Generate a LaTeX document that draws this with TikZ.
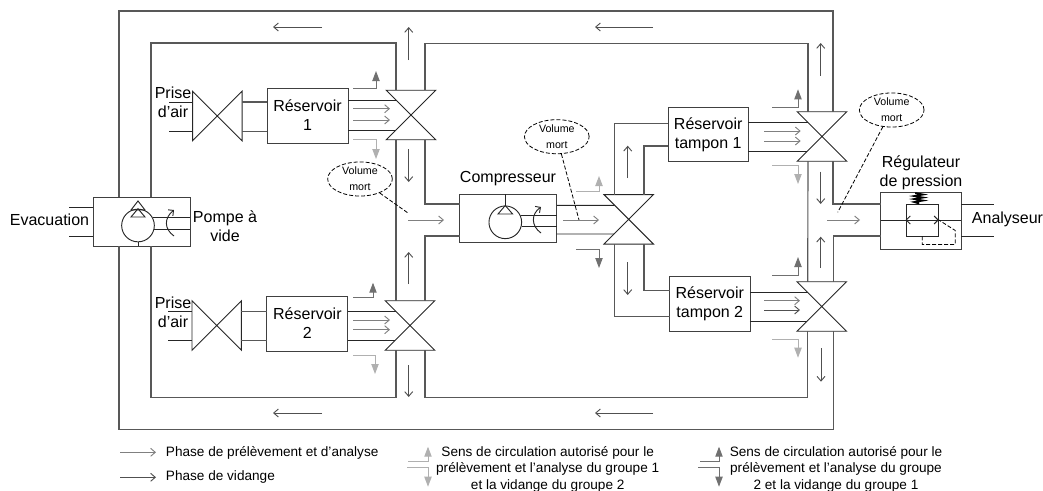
\documentclass[tikz,border=0pt]{standalone}
\usepackage{fontspec}
\setmainfont{Liberation Sans}
\usepackage{tikz}
\usetikzlibrary{calc,arrows.meta,positioning,shapes.geometric}
\definecolor{gc-pipe}{HTML}{585858}
\definecolor{gc-flux}{HTML}{808080}
\definecolor{gc-vide}{HTML}{505050}
\definecolor{gc-light}{HTML}{B0B0B0}
\definecolor{gc-dark}{HTML}{707070}
\newcommand{\vannev}[2]{
    \node[vanne] (#1) at (#2) {};
    \draw[trait] (#1.north west) -- (#1.south east) -- (#1.south west) -- (#1.north east) -- cycle;
}
\newcommand{\vanneh}[2]{
    \node[vanne] (#1) at (#2) {};
    \draw[trait] (#1.north west) -- (#1.south east) -- (#1.north east) -- (#1.south west) -- cycle;
}
\begin{document}
\begin{tikzpicture}[x=0.75pt, y=-0.75pt,
    pipe/.style={gc-pipe, line width=0.85pt},
    trait/.style={black!85, line width=0.7pt},
    vanne/.style={minimum size=37.1pt, inner sep=0pt, outer sep=0pt},
    boite/.style={draw, black!75, text=black, line width=0.7pt, align=center, inner sep=0pt, outer sep=0pt, font=\fontsize{12}{14.4}\selectfont},
    texte/.style={align=center, inner sep=0pt, font=\fontsize{12}{14.4}\selectfont},
    legende/.style={align=center, inner sep=0pt, font=\fontsize{10.2}{12.4}\selectfont},
    volume/.style={draw, dash pattern=on 3pt off 1.5pt, ellipse, line width=0.6pt, minimum width=48.5pt, minimum height=23.5pt, align=center, inner sep=0pt, font=\fontsize{8}{12.2}\selectfont},
    tirets/.style={dash pattern=on 3pt off 1.5pt, line width=0.6pt},
    flux/.style={gc-flux, line width=0.7pt, -{Straight Barb[length=3.5pt,width=6pt]}},
    vide/.style={gc-vide, line width=0.7pt, -{Straight Barb[length=3.5pt,width=6pt]}},
    coude/.style={line width=0.7pt, -{Triangle[length=7.5pt,width=5.5pt]}}]
    \useasboundingbox (0,0) rectangle (1043,490);

    \node[boite, minimum width=72.75pt, minimum height=36.75pt] (P) at (141.5,221.5) {};
    \node[boite, minimum width=60.75pt, minimum height=41.25pt] (R1) at (307.5,115.5) {Réservoir\\1};
    \node[boite, minimum width=60.75pt, minimum height=41.25pt] (R2) at (307.4,323.5) {Réservoir\\2};
    \node[boite, minimum width=72.75pt, minimum height=36.25pt] (C) at (508.4,218.5) {};
    \node[boite, minimum width=60.25pt, minimum height=40.5pt] (T1) at (708.2,134.7) {Réservoir\\tampon 1};
    \node[boite, minimum width=60.25pt, minimum height=41.25pt] (T2) at (709.8,303.5) {Réservoir\\tampon 2};
    \node[boite, minimum width=60.25pt, minimum height=42.5pt] (G) at (920.9,221) {};
    \vanneh{VA}{217.3,116}
    \vanneh{VB}{216.7,325.5}
    \vannev{V1}{411,115}
    \vannev{V2}{410,325.5}
    \vannev{V3}{628.7,219.3}
    \vannev{V4}{822,136.5}
    \vannev{V5}{821.7,306.5}

    \draw[pipe] ($(P.north)+(-22.5,0)$) -- ++(0,-186) -| ($(V4.north)+(11,0)$);
    \draw[pipe] ($(P.north)+(9.5,0)$) -- ++(0,-154) -| ($(V1.north)+(-15,0)$);
    \draw[pipe] ($(V1.north)+(14,0)$) -- ++(0,-47) -| ($(V4.north)+(-14,0)$);
    \draw[pipe] ($(V1.south)+(-15,0)$) -- ($(V2.north)+(-14,0)$);
    \draw[pipe] ($(V1.south)+(14,0)$) |- ($(C.west)+(0,-14.5)$);
    \draw[pipe] ($(V2.north)+(15,0)$) |- ($(C.west)+(0,17.5)$);
    \draw[pipe] ($(V2.south)+(-14,0)$) -- ++(0,47) -| ($(P.south)+(9.5,0)$);
    \draw[pipe] ($(V5.south)+(12,0)$) -- ++(0,98) -| ($(P.south)+(-22.5,0)$);
    \draw[pipe] ($(V2.south)+(15,0)$) -- ++(0,47) -| ($(V5.south)+(-14,0)$);
    \draw[pipe] ($(V4.south)+(-14,0)$) -- ($(V5.north)+(-14,0)$);
    \draw[pipe] ($(V4.south)+(11,0)$) |- ($(G.west)+(0,-17)$);
    \draw[pipe] ($(V5.north)+(11.5,0)$) |- ($(G.west)+(0,15)$);
    \draw[pipe] ($(V3.north)+(-14,0)$) |- ($(T1.west)+(0,-11.4)$);
    \draw[pipe] ($(V3.north)+(15.3,0)$) |- ($(T1.west)+(0,11.3)$);
    \draw[pipe] ($(V3.south)+(-14,0)$) |- ($(T2.west)+(0,13.2)$);
    \draw[pipe] ($(V3.south)+(15.3,0)$) |- ($(T2.west)+(0,-12.8)$);

    \draw[trait] ($(R1.east)+(0,-14.8)$) -- ($(V1.center)+(-14.3,-14.3)$);
    \draw[trait] ($(R1.east)+(0,14.5)$) -- ($(V1.center)+(-15,15)$);
    \draw[trait] ($(R2.east)+(0,-11.8)$) -- ($(V2.center)+(-13.8,-13.8)$);
    \draw[trait] ($(R2.east)+(0,17)$) -- ($(V2.center)+(-15,15)$);
    \draw[trait] ($(T1.east)+(0,-12.4)$) -- ($(V4.center)+(-14.2,-14.2)$);
    \draw[trait] ($(T1.east)+(0,17)$) -- ($(V4.center)+(-15.2,15.2)$);
    \draw[trait] ($(T2.east)+(0,-11.2)$) -- ($(V5.center)+(-14.2,-14.2)$);
    \draw[trait] ($(T2.east)+(0,17.5)$) -- ($(V5.center)+(-14.5,14.5)$);
    \draw[trait] ($(C.east)+(0,-13.2)$) -- ($(V3.center)+(-14,-14)$);
    \draw[trait] ($(C.east)+(0,15.5)$) -- ($(V3.center)+(-14.7,14.7)$);
    \draw[pipe] ($(VA.east)+(0,-14)$) -- ($(R1.west)+(0,-13.5)$);
    \draw[pipe] ($(VA.east)+(0,15.7)$) -- ($(R1.west)+(0,16.2)$);
    \draw[pipe] ($(VB.east)+(0,-13.8)$) -- ($(R2.west)+(0,-11.8)$);
    \draw[pipe] ($(VB.east)+(0,15.2)$) -- ($(R2.west)+(0,17.2)$);
    \draw[trait] ($(VA.west)+(0,-14)$) -- ++(-24,0);
    \draw[trait] ($(VA.west)+(0,15.7)$) -- ++(-24,0);
    \draw[trait] ($(VB.west)+(0,-13.8)$) -- ++(-24,0);
    \draw[trait] ($(VB.west)+(0,15.2)$) -- ++(-24,0);
    \draw[trait] ($(P.west)+(0,-14.5)$) -- ++(-24,0);
    \draw[trait] ($(P.west)+(0,14.5)$) -- ++(-24,0);
    \draw[trait] ($(G.east)+(0,-17)$) -- ++(32.5,0);
    \draw[trait] ($(G.east)+(0,15)$) -- ++(32.5,0);

    \node[draw, circle, trait, minimum size=24.5pt, inner sep=0pt] (PC) at (138,225.5) {};
    \draw[trait] (138,201) -- (131,210) -- (145,210) -- cycle;
    \draw[trait] (PC.north) -- (131,217) -- (145,217) -- cycle;
    \draw[trait] (PC.south) -- (PC.south |- P.south);
    \draw[trait] (PC.27) -- (PC.27 -| P.east);
    \draw[trait] (PC.-15) -- (PC.-15 -| P.east);
    \draw[trait, ->, >=Straight Barb] (174,236) .. controls (164,229) and (164,218) .. (174,210);

    \node[draw, circle, trait, minimum size=24.5pt, inner sep=0pt] (CC) at (505.3,222.3) {};
    \draw[trait] (CC.north) -- (498,214) -- (512.6,214) -- cycle;
    \draw[trait] (CC.north) -- (CC.north |- C.north);
    \draw[trait] (CC.25) -- (CC.25 -| C.east);
    \draw[trait] (CC.-13) -- (CC.-13 -| C.east);
    \draw[trait, ->, >=Straight Barb] (541,233) .. controls (531,226) and (531,214) .. (541,207);

    \node[draw, trait, minimum width=24.2pt, minimum height=24pt, inner sep=0pt] (GI) at (922.2,220) {};
    \draw[trait] (G.west |- GI.center) -- (G.east |- GI.center);
    \draw[trait, {Straight Barb[length=3pt,width=6pt]}-{Straight Barb[length=3pt,width=6pt]}] (GI.west) -- (GI.east);
    \draw[black, line width=1.3pt] (GI.north) ++(-3,0) -- ++(-5,-1.5) -- ++(9,-1.5) -- ++(-9,-1.5) -- ++(9,-1.5) -- ++(-9,-1.5) -- ++(9,-1.5) -- ++(-8,-1.5);
    \draw[tirets] (GI.south) -- ++(0,8) -- ++(33,0) -- ++(0,-14) -- (GI.east);

    \node[texte] (evac) at (49.5,220) {Evacuation};
    \node[texte] (pvide) at (225,226.5) {Pompe à\\vide};
    \node[texte] (pa1) at (173,102) {Prise\\d’air};
    \node[texte] (pa2) at (173,312) {Prise\\d’air};
    \node[texte] (comp) at (508,179) {Compresseur};
    \node[texte] (regul) at (921,173) {Régulateur\\de pression};
    \node[texte] (ana) at (1007.5,219.5) {Analyseur};

    \node[volume] (VM1) at (360,179) {Volume\\mort};
    \node[volume] (VM2) at (556.8,136.7) {Volume\\mort};
    \node[volume] (VM3) at (891.7,110) {Volume\\mort};
    \coordinate (F1) at (408,213);
    \coordinate (F2) at (579,220);
    \coordinate (F3) at (837.7,212.3);
    \draw[tirets] (VM1) -- (F1);
    \draw[tirets] (VM2) -- (F2);
    \draw[tirets] (VM3) -- (F3);

    \draw[vide] (322,27) -- (273,27);
    \draw[vide] (653,27) -- (595,27);
    \draw[vide] (322,413) -- (273,413);
    \draw[vide] (653,413) -- (595,413);
    \draw[vide] (408.7,60) -- (408.7,27);
    \draw[vide] (408.7,149) -- (408.7,182);
    \draw[vide] (408.7,284) -- (408.7,252);
    \draw[vide] (408.7,365) -- (408.7,397);
    \draw[vide] (820.7,75.7) -- (820.7,43);
    \draw[vide] (820.7,171.7) -- (820.7,204);
    \draw[vide] (820.7,268) -- (820.7,236.7);
    \draw[vide] (821,348.3) -- (821,381.7);
    \draw[vide] (627.7,178) -- (627.7,145.7);
    \draw[vide] (627.7,262) -- (627.7,295);

    \draw[flux] (408,220) -- (444,220);
    \draw[flux] (563,220) -- (599,220);
    \draw[flux] (827.3,220) -- (860,220);
    \draw[flux] (353,108.7) -- (390,108.7);
    \draw[flux] (353,120) -- (390,120);
    \draw[flux] (353,320) -- (390,320);
    \draw[flux] (353,329.7) -- (390,329.7);
    \draw[flux] (764.3,131) -- (800.7,131);
    \draw[flux] (764.3,141) -- (800.7,141);
    \draw[flux] (764.3,300.7) -- (800,300.7);
    \draw[vide] (764.3,310) -- (800,310);

    \draw[coude, gc-dark] (353,88.7) -| (376,71);
    \draw[coude, gc-light] (353,139.7) -| (376,159);
    \draw[coude, gc-dark] (353,297.3) -| (373,282.7);
    \draw[coude, gc-light] (353,355.3) -| (375,374);
    \draw[coude, gc-light] (576,191) -| (599,176);
    \draw[coude, gc-dark] (576,249) -| (599,268);
    \draw[coude, gc-dark] (772,107.7) -| (798,89.3);
    \draw[coude, gc-light] (772,165) -| (798,184);
    \draw[coude, gc-dark] (772,275) -| (798,257);
    \draw[coude, gc-light] (772,339.3) -| (798,357.7);

    \coordinate (L1) at (120,452.3);
    \coordinate (L2) at (120,477.3);
    \draw[flux] (L1) -- ++(36,0);
    \draw[vide] (L2) -- ++(36,0);
    \node[legende, anchor=west] (leg1) at (165.7,452.5) {Phase de prélèvement et d’analyse};
    \node[legende, anchor=west] (leg2) at (165.7,477.3) {Phase de vidange};
    \node[legende] (leg3) at (547.7,469) {Sens de circulation autorisé pour le\\prélèvement et l’analyse du groupe 1\\et la vidange du groupe 2};
    \node[legende] (leg4) at (836,469) {Sens de circulation autorisé pour le\\prélèvement et l’analyse du groupe\\2 et la vidange du groupe 1};
    \draw[coude, gc-light] (408,461) -| (428,446.7);
    \draw[coude, gc-light] (407,467.7) -| (428,486.7);
    \draw[coude, gc-dark] (700,461) -| (719,446.7);
    \draw[coude, gc-dark] (698,467.7) -| (719,486.7);
\end{tikzpicture}
\end{document}
